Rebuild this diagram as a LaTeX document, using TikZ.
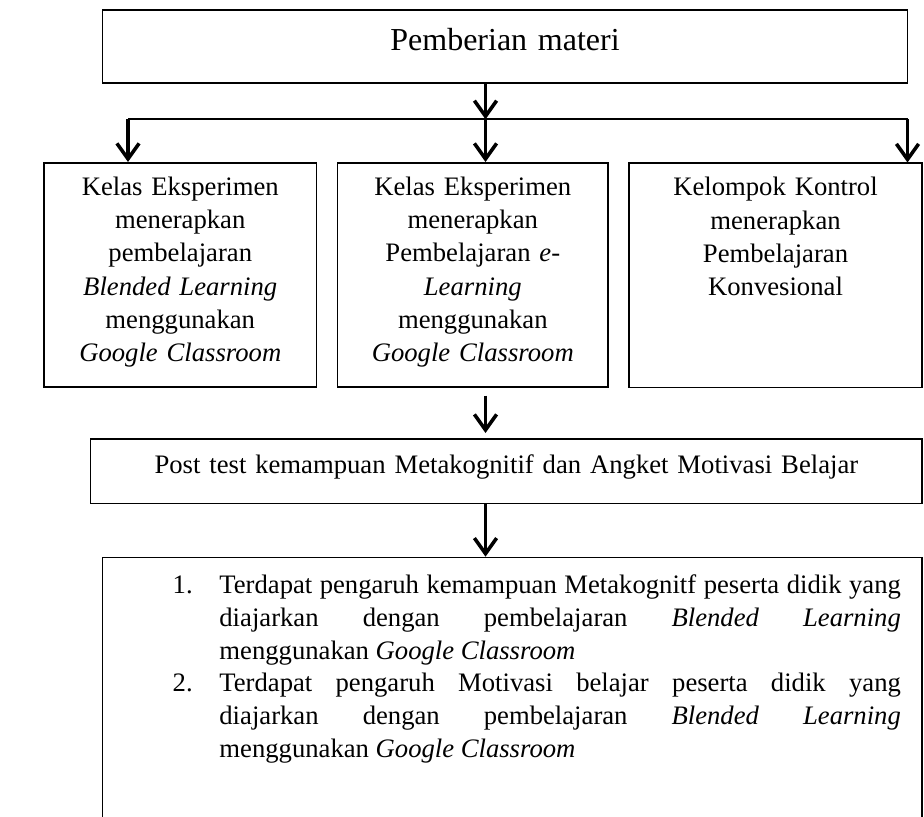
\documentclass[tikz,border=0pt]{standalone}
\usepackage{fontspec}
\setmainfont{Liberation Serif}
\usetikzlibrary{calc,positioning,arrows.meta}

\def\pxu{0.45pt}
\tikzset{
	kotak/.style={draw,line width=0.7pt,inner sep=0pt,align=center,font=\fontsize{12}{15}\selectfont},
	panah/.style={line width=1.6pt,-{Straight Barb[length=7pt,width=10pt]}},
}

\begin{document}
\begin{tikzpicture}[x=0.45pt,y=-0.45pt]
		\useasboundingbox (0,0) rectangle (924,817);
		\clip (0,0) rectangle (924,817);
		\node[kotak,anchor=north,text width=805*\pxu,text height=18pt,text depth=14.8pt,font=\fontsize{14.4}{17}\selectfont] (materi) at (505,9.3) {Pemberian materi};
		\node[kotak,anchor=north,text width=272.5*\pxu,text height=14.6pt,text depth=86.2pt] (kelasA) at (180.25,162) {Kelas Eksperimen\\ menerapkan\\ pembelajaran\\ \textit{Blended Learning}\\ menggunakan\\ \textit{Google Classroom}};
		\node[kotak,anchor=north,text width=270.4*\pxu,text height=14.6pt,text depth=86.2pt] (kelasB) at (472.8,162) {Kelas Eksperimen\\ menerapkan\\ Pembelajaran \textit{e-}\\ \textit{Learning}\\ menggunakan\\ \textit{Google Classroom}};
		\node[kotak,anchor=north,text width=293*\pxu,text height=14.6pt,text depth=86.2pt] (kontrol) at (775.5,162.5) {Kelompok Kontrol\\ menerapkan\\ Pembelajaran\\ Konvesional};
		\node[kotak,anchor=north,text width=831.3*\pxu,text height=15.75pt,text depth=13.35pt] (posttest) at (506.35,438) {Post test kemampuan Metakognitif dan Angket Motivasi Belajar};
		\node[kotak,anchor=north,align=justify,text width=819.7*\pxu,text height=16.3pt,text depth=120pt,font=\fontsize{12}{14.7}\selectfont] (hasil) at (512.15,556.7) {{\leftskip=31.7pt\rightskip=9.5pt\hyphenpenalty=10000
			\hangindent=21pt\hangafter=1\makebox[21pt][l]{1.}Terdapat pengaruh kemampuan Metakognitf peserta didik yang\linebreak diajarkan dengan pembelajaran \textit{Blended Learning}\linebreak menggunakan \textit{Google Classroom}\par
			\hangindent=21pt\hangafter=1\makebox[21pt][l]{2.}Terdapat pengaruh Motivasi belajar peserta didik yang\linebreak diajarkan dengan pembelajaran \textit{Blended Learning}\linebreak menggunakan \textit{Google Classroom}\par}};
		\coordinate (cabang) at (485.5,119.3);
		\coordinate (kiri) at (128,119.3);
		\coordinate (kanan) at (907.5,119.3);
		\draw[panah] (cabang |- materi.south) -- (cabang);
		\draw[line width=0.9pt] (kiri) -- (kanan);
		\draw[panah] (kiri) -- (kiri |- kelasA.north);
		\draw[panah] (cabang) -- (cabang |- kelasB.north);
		\draw[panah] (kanan) -- (kanan |- kontrol.north);
		\draw[panah,shorten <=8*\pxu,shorten >=5*\pxu] (cabang |- kelasB.south) -- (cabang |- posttest.north);
		\draw[panah] (cabang |- posttest.south) -- (cabang |- hasil.north);
	\end{tikzpicture}
\end{document}
